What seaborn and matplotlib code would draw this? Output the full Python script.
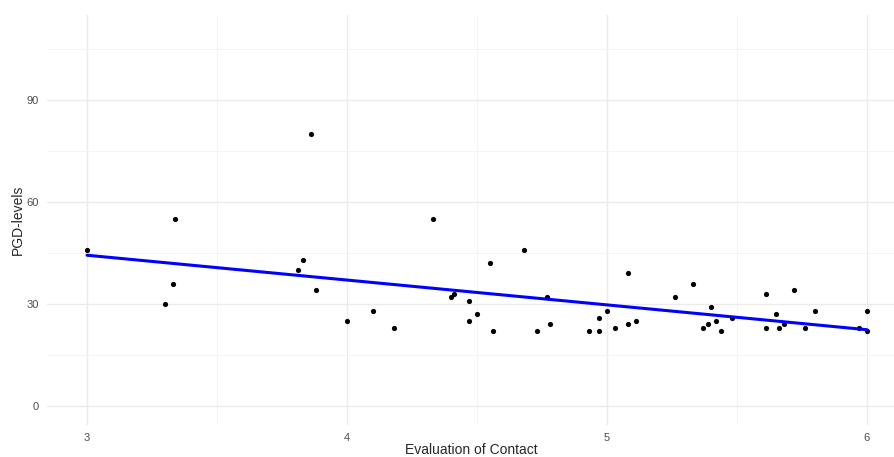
import numpy as np
import pandas as pd
import seaborn as sns
import matplotlib.pyplot as plt

# Evaluation of contact vs PGD levels
contact = [3.00, 3.30, 3.33, 3.34, 3.81, 3.83, 3.86, 3.88, 4.00, 4.10,
           4.18, 4.33, 4.40, 4.41, 4.47, 4.47, 4.50, 4.55, 4.56, 4.68,
           4.73, 4.77, 4.78, 4.93, 4.97, 4.97, 5.00, 5.03, 5.08, 5.08,
           5.11, 5.26, 5.33, 5.37, 5.39, 5.40, 5.42, 5.44, 5.48, 5.61,
           5.61, 5.65, 5.66, 5.68, 5.72, 5.76, 5.80, 5.97, 6.00, 6.00]
pgd = [46, 30, 36, 55, 40, 43, 80, 34, 25, 28,
       23, 55, 32, 33, 31, 25, 27, 42, 22, 46,
       22, 32, 24, 22, 26, 22, 28, 23, 39, 24,
       25, 32, 36, 23, 24, 29, 25, 22, 26, 33,
       23, 27, 23, 24, 34, 23, 28, 23, 28, 22]

x_ticks = [3, 4, 5, 6]
y_ticks = [0, 30, 60, 90]

df = pd.DataFrame({'contact': contact, 'pgd': pgd})

sns.set_style('white')
plt.rcParams['font.family'] = ['Liberation Sans', 'DejaVu Sans']

fig = plt.figure(figsize=(8.95, 4.57), dpi=100)
ax = fig.add_axes([47 / 895, 1 - 425 / 457, 1 - 47 / 895, 410 / 457])

sns.regplot(data=df, x='contact', y='pgd', ax=ax, ci=None,
            scatter_kws={'color': 'black', 's': 14, 'linewidths': 0, 'alpha': 1},
            line_kws={'color': '#0000FF', 'lw': 2.2})

ax.set_xlim(2.846, 6.108)
ax.set_ylim(-5.6, 115)
ax.set_xticks(x_ticks)
ax.set_yticks(y_ticks)
ax.set_xticks([3.5, 4.5, 5.5], minor=True)
ax.set_yticks([15, 45, 75, 105], minor=True)
ax.grid(True, which='major', color='#EBEBEB', lw=1.0)
ax.grid(True, which='minor', color='#F3F3F3', lw=0.6)
ax.set_axisbelow(True)
for s in ax.spines.values():
    s.set_visible(False)
ax.tick_params(which='both', length=0, labelsize=8, labelcolor='#4D4D4D', pad=6)

ax.set_xlabel('Evaluation of Contact', fontsize=10, labelpad=0)
ax.set_ylabel('PGD-levels', fontsize=10, labelpad=1)

fig.savefig('out.png', dpi=100)
